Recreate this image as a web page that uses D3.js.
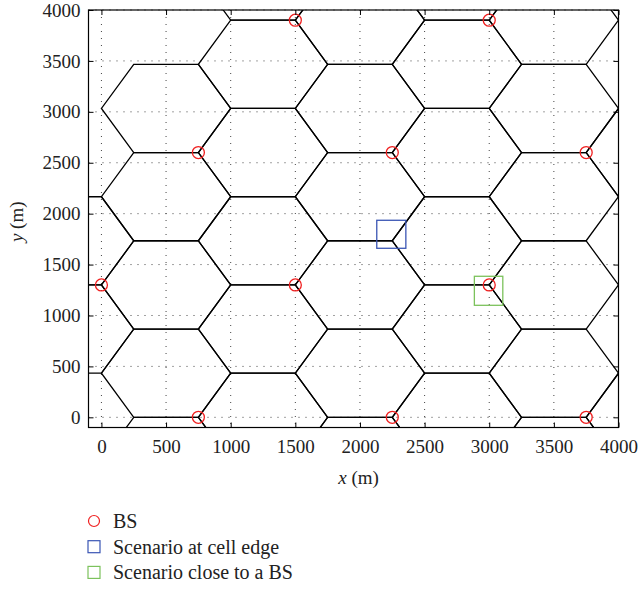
<!DOCTYPE html>
<html>
<head>
<meta charset="utf-8">
<script src="https://cdn.jsdelivr.net/npm/d3@7/dist/d3.min.js"></script>
<style>
  body { margin: 0; background: #fff; }
  svg { font-family: "Liberation Serif", "DejaVu Serif", serif; }
</style>
</head>
<body>
<script>
// base station sites (m)
var siteX = [0, 1500, 3000, 750, 2250, 3750, 750, 2250, 3750, 1500, 3000];
var siteY = [1300, 1300, 1300, 0, 0, 0, 2600, 2600, 2600, 3900, 3900];

// 3 sectors per site, hexagonal cells
var cellRadius = 500;
var sectorAngles = [0, 120, 240];

// scenario areas (m)
var scenarioNames = ["Scenario at cell edge", "Scenario close to a BS"];
var scenarioX0 = [2130, 2885];
var scenarioX1 = [2355, 3105];
var scenarioY0 = [1660, 1100];
var scenarioY1 = [1935, 1385];
var scenarioColors = ["#3a55b4", "#7cc25c"];

var xTicks = [0, 500, 1000, 1500, 2000, 2500, 3000, 3500, 4000];
var yTicks = [0, 500, 1000, 1500, 2000, 2500, 3000, 3500, 4000];

var width = 639, height = 594;
var plotL = 88.5, plotR = 618.5, plotT = 10, plotB = 427.5;

var svg = d3.select("body").append("svg")
  .attr("width", width)
  .attr("height", height);

var x = d3.scaleLinear().domain([-100, 4000]).range([plotL, plotR]);
var y = d3.scaleLinear().domain([-100, 4000]).range([plotB, plotT]);

svg.append("clipPath").attr("id", "plotclip")
  .append("rect")
  .attr("x", plotL).attr("y", plotT)
  .attr("width", plotR - plotL).attr("height", plotB - plotT);

// dotted grid
var grid = svg.append("g").attr("class", "grid");
grid.selectAll("line.gx").data(xTicks).enter().append("line").attr("class", "gx")
  .attr("x1", function(d) { return x(d); }).attr("x2", function(d) { return x(d); })
  .attr("y1", plotT).attr("y2", plotB);
grid.selectAll("line.gy").data(yTicks).enter().append("line").attr("class", "gy")
  .attr("y1", function(d) { return y(d); }).attr("y2", function(d) { return y(d); })
  .attr("x1", plotL).attr("x2", plotR);
grid.selectAll("line")
  .attr("stroke", "#444")
  .attr("stroke-width", 1)
  .attr("stroke-dasharray", "1,6");

// hexagon cells, one per sector
var cells = [];
siteX.forEach(function(sx, i) {
  sectorAngles.forEach(function(a) {
    var r = a * Math.PI / 180;
    cells.push({ cx: sx + cellRadius * Math.cos(r), cy: siteY[i] + cellRadius * Math.sin(r) });
  });
});

var line = d3.line()
  .x(function(p) { return x(p[0]); })
  .y(function(p) { return y(p[1]); })
  .curve(d3.curveLinearClosed);

svg.append("g").attr("clip-path", "url(#plotclip)")
  .selectAll("path").data(cells).enter().append("path")
  .attr("d", function(c) {
    var pts = d3.range(6).map(function(k) {
      var t = k * Math.PI / 3;
      return [c.cx + cellRadius * Math.cos(t), c.cy + cellRadius * Math.sin(t)];
    });
    return line(pts);
  })
  .attr("fill", "none")
  .attr("stroke", "#000")
  .attr("stroke-width", 1.3);

// scenario squares
svg.append("g").selectAll("rect").data(scenarioNames).enter().append("rect")
  .attr("x", function(d, i) { return x(scenarioX0[i]); })
  .attr("y", function(d, i) { return y(scenarioY1[i]); })
  .attr("width", function(d, i) { return x(scenarioX1[i]) - x(scenarioX0[i]); })
  .attr("height", function(d, i) { return y(scenarioY0[i]) - y(scenarioY1[i]); })
  .attr("fill", "none")
  .attr("stroke", function(d, i) { return scenarioColors[i]; })
  .attr("stroke-width", 1.3);

// BS markers
svg.append("g").selectAll("circle").data(siteX).enter().append("circle")
  .attr("cx", function(d) { return x(d); })
  .attr("cy", function(d, i) { return y(siteY[i]); })
  .attr("r", 6)
  .attr("fill", "none")
  .attr("stroke", "#f02020")
  .attr("stroke-width", 1.3);

// axes with inward ticks on all sides
function styleAxis(g) {
  g.select(".domain").remove();
  g.selectAll(".tick line").attr("stroke", "#000");
  g.selectAll(".tick text")
    .attr("font-family", "Liberation Serif, serif")
    .attr("font-size", 19)
    .attr("fill", "#222");
}

svg.append("g").attr("transform", "translate(0," + plotB + ")")
  .call(d3.axisBottom(x).tickValues(xTicks).tickSize(-5).tickPadding(12).tickFormat(d3.format("d")))
  .call(styleAxis);
svg.append("g").attr("transform", "translate(0," + plotT + ")")
  .call(d3.axisTop(x).tickValues(xTicks).tickSize(-5).tickFormat(""))
  .call(styleAxis);
svg.append("g").attr("transform", "translate(" + plotL + ",0)")
  .call(d3.axisLeft(y).tickValues(yTicks).tickSize(-5).tickPadding(8).tickFormat(d3.format("d")))
  .call(styleAxis);
svg.append("g").attr("transform", "translate(" + plotR + ",0)")
  .call(d3.axisRight(y).tickValues(yTicks).tickSize(-5).tickFormat(""))
  .call(styleAxis);

// frame
svg.append("rect")
  .attr("x", plotL).attr("y", plotT)
  .attr("width", plotR - plotL).attr("height", plotB - plotT)
  .attr("fill", "none").attr("stroke", "#000").attr("stroke-width", 1.2);

// axis labels
var xl = svg.append("text")
  .attr("x", (plotL + plotR) / 2 + 5).attr("y", 484)
  .attr("text-anchor", "middle")
  .attr("font-size", 19).attr("fill", "#222");
xl.append("tspan").attr("font-style", "italic").text("x");
xl.append("tspan").text(" (m)");

var yl = svg.append("text")
  .attr("transform", "translate(23," + ((plotT + plotB) / 2 + 3) + ") rotate(-90)")
  .attr("text-anchor", "middle")
  .attr("font-size", 19).attr("fill", "#222");
yl.append("tspan").attr("font-style", "italic").text("y");
yl.append("tspan").text(" (m)");

// legend
var legendLabels = ["BS"].concat(scenarioNames);
var lg = svg.append("g").attr("transform", "translate(94,0)");
legendLabels.forEach(function(lab, i) {
  var cy = 521 + i * 25.7;
  if (i === 0) {
    lg.append("circle").attr("cx", 0).attr("cy", cy).attr("r", 5.5)
      .attr("fill", "none").attr("stroke", "#f02020").attr("stroke-width", 1.2);
  } else {
    lg.append("rect").attr("x", -6).attr("y", cy - 6).attr("width", 12).attr("height", 12)
      .attr("fill", "none").attr("stroke", scenarioColors[i - 1]).attr("stroke-width", 1.2);
  }
  lg.append("text").attr("x", 19).attr("y", cy + 7)
    .attr("font-size", 20).attr("fill", "#222").text(lab);
});
</script>
</body>
</html>
